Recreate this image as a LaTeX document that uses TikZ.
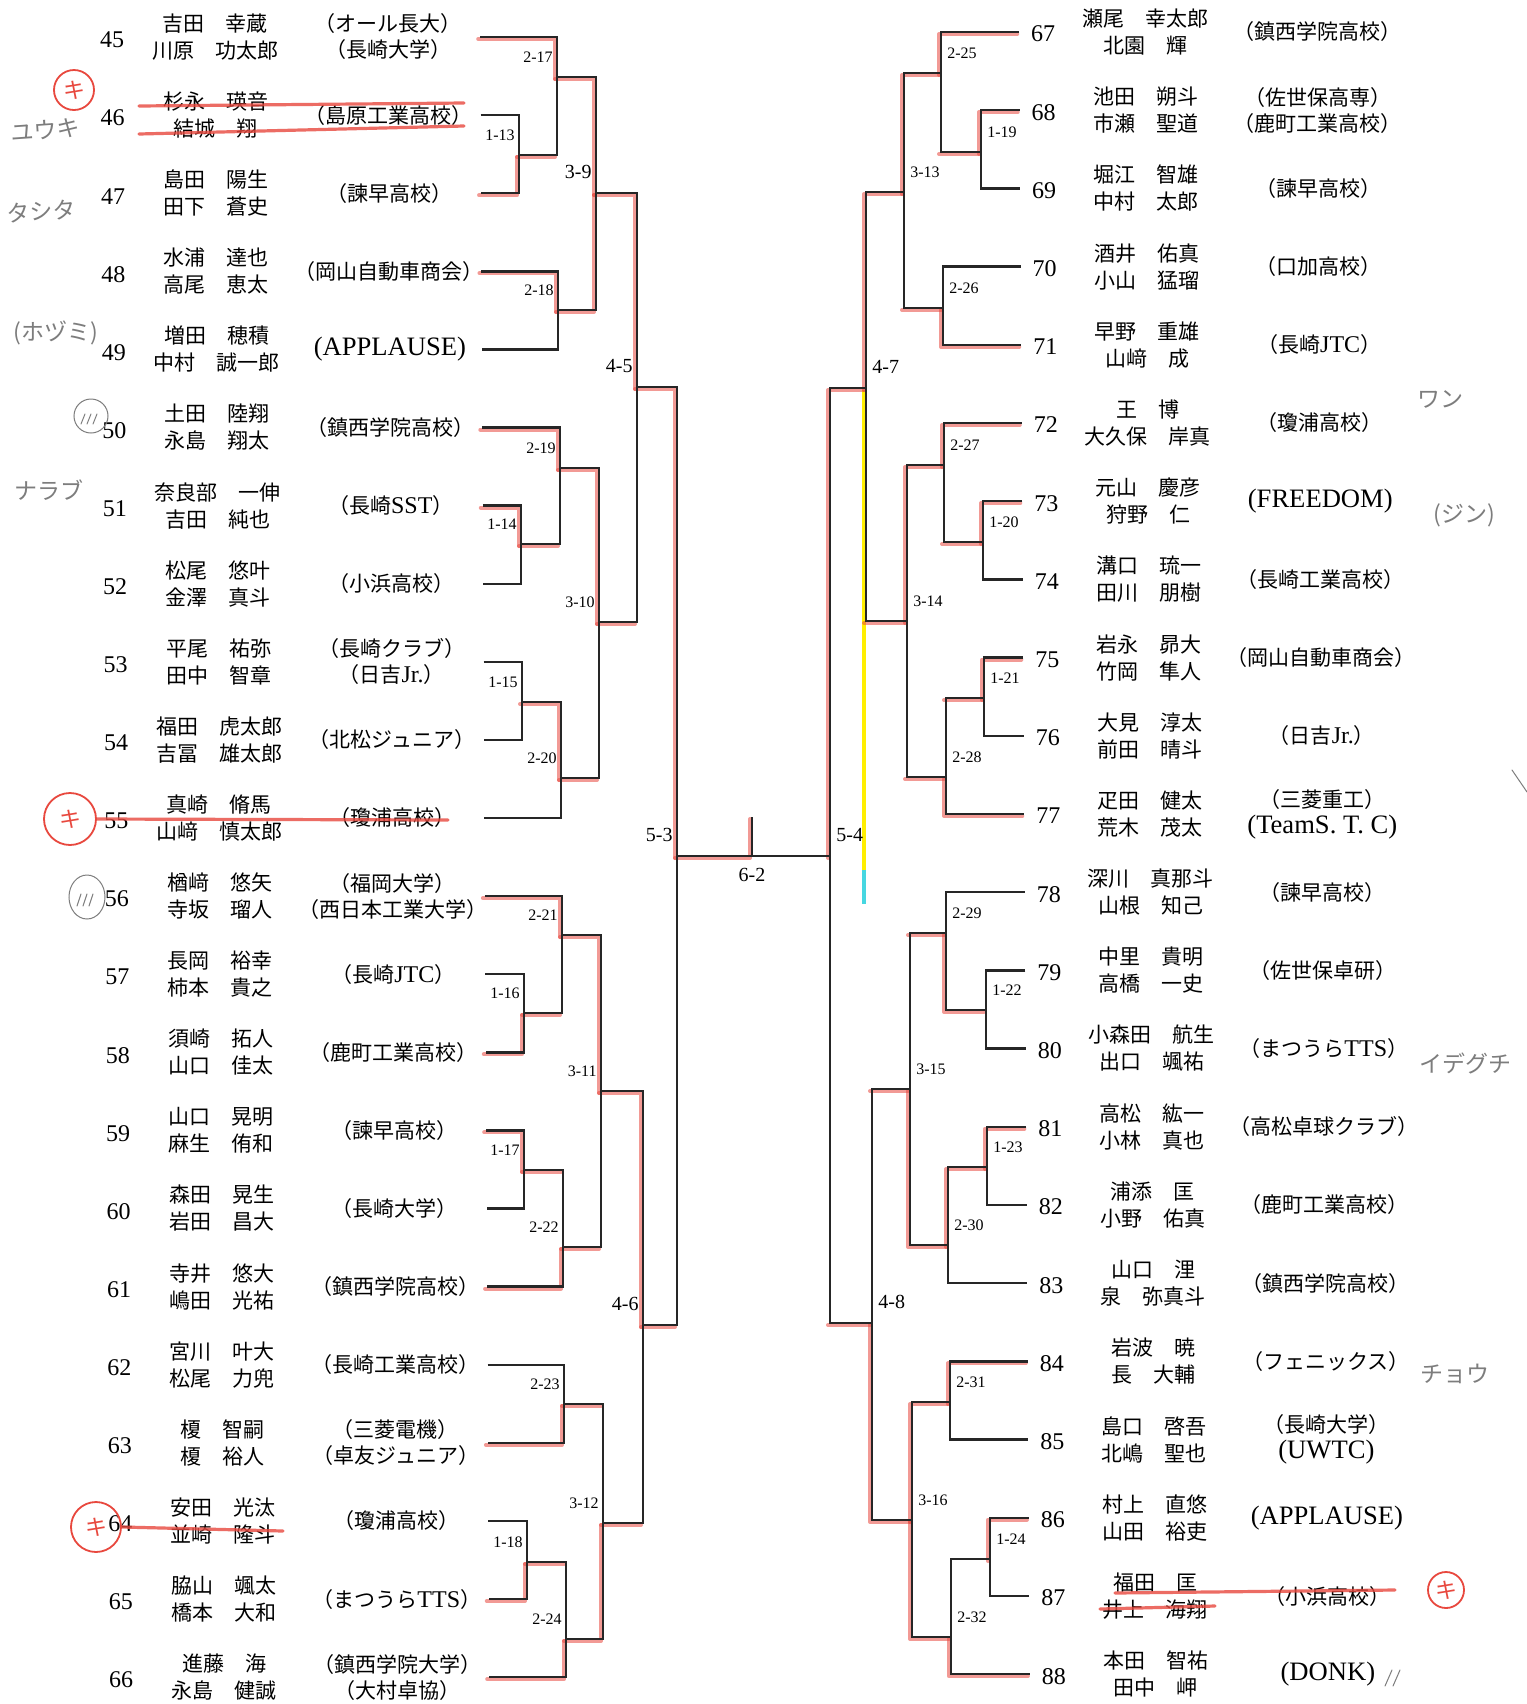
\documentclass[tikz,border=0pt]{standalone}
\usepackage{fontspec}
\setmainfont{Liberation Serif}
\newfontfamily\jp{Noto Sans CJK JP}
\usepackage{xcolor}
\definecolor{Lapiz}{RGB}{232,72,62}
\definecolor{Grafito}{RGB}{125,125,125}
\definecolor{Amarillo}{RGB}{255,238,0}
\definecolor{Turquesa}{RGB}{70,215,225}
\usepackage{tikz}
\usetikzlibrary{positioning, backgrounds, shapes.geometric}

\newcommand{\latclub}{\fontsize{13.3}{13}\selectfont\rmfamily}
\newcommand{\romano}{\fontsize{12}{13}\selectfont\rmfamily}

\tikzset{
  linea/.style={draw=black!85, line width=1.2pt},
  lapiz/.style={draw=Lapiz, line width=2pt, opacity=0.55, line cap=round, line join=round},
  numero/.style={font=\fontsize{12}{12}\selectfont, inner sep=0pt},
  nombre/.style={font=\jp\fontsize{10.5}{13.5}\selectfont, align=center, inner sep=0pt},
  club/.style={font=\jp\fontsize{10.5}{13}\selectfont, align=center, inner sep=0pt},
  ronda/.style={font=\fontsize{8}{8}\selectfont, inner sep=0pt},
  rondag/.style={font=\fontsize{10}{10}\selectfont, inner sep=0pt},
  mano/.style={font=\jp\fontsize{11.5}{11.5}\selectfont, text=Grafito, inner sep=0pt},
  circulo/.style={circle, draw=Lapiz, text=Lapiz, line width=0.9pt, inner sep=0pt, font=\jp\fontsize{11}{11}\selectfont},
  circgris/.style={ellipse, draw=Grafito, line width=0.5pt, inner sep=0pt},
  tachado/.style={draw=Lapiz, line width=1.6pt, opacity=0.8, line cap=round},
  trazo/.style={draw=Grafito, line width=0.5pt, line cap=round},
}

% llave de un partido: ronda, arriba, abajo, x, y, estilo
\newcommand{\llaveI}[6]{%
  \coordinate (m#1) at (#4,#5);
  \draw[linea] (#2) -- (#2 -| m#1) -- (#3 -| m#1) -- (#3);
  \node[#6, above left=7pt and 2pt of m#1] (t#1) {#1};}
\newcommand{\llaveD}[6]{%
  \coordinate (m#1) at (#4,#5);
  \draw[linea] (#2) -- (#2 -| m#1) -- (#3 -| m#1) -- (#3);
  \node[#6, above right=7pt and 3pt of m#1] (t#1) {#1};}
% trazo rojo del ganador
\newcommand{\gana}[2]{\draw[lapiz] (#1) -- (#1 -| #2) -- (#2);}
\newcommand{\sale}[2]{\draw[lapiz] (#1) -- (#1 -| #2);}

\begin{document}
\begin{tikzpicture}[x=0.5pt, y=-0.5pt]
\useasboundingbox (0,0) rectangle (1527,1704);

% Lado izquierdo
\foreach \nr/\pa/\pb/\org [count=\i from 0] in {
  45/吉田　幸蔵/川原　功太郎/{（オール長大）\\（長崎大学）},
  46/杉永　瑛音/結城　翔/（島原工業高校）,
  47/島田　陽生/田下　蒼史/（諫早高校）,
  48/水浦　達也/高尾　恵太/（岡山自動車商会）,
  49/増田　穂積/中村　誠一郎/{\latclub (APPLAUSE)},
  50/土田　陸翔/永島　翔太/（鎮西学院高校）,
  51/奈良部　一伸/吉田　純也/（長崎{\romano SST}）,
  52/松尾　悠叶/金澤　真斗/（小浜高校）,
  53/平尾　祐弥/田中　智章/{（長崎クラブ）\\（日吉{\romano Jr.}）},
  54/福田　虎太郎/吉冨　雄太郎/（北松ジュニア）,
  55/真崎　脩馬/山﨑　慎太郎/（瓊浦高校）,
  56/楢﨑　悠矢/寺坂　瑠人/{（福岡大学）\\（西日本工業大学）},
  57/長岡　裕幸/柿本　貴之/（長崎{\romano JTC}）,
  58/須崎　拓人/山口　佳太/（鹿町工業高校）,
  59/山口　晃明/麻生　侑和/（諫早高校）,
  60/森田　晃生/岩田　昌大/（長崎大学）,
  61/寺井　悠大/嶋田　光祐/（鎮西学院高校）,
  62/宮川　叶大/松尾　力兜/（長崎工業高校）,
  63/榎　智嗣/榎　裕人/{（三菱電機）\\（卓友ジュニア）},
  64/安田　光汰/並崎　隆斗/（瓊浦高校）,
  65/脇山　颯太/橋本　大和/（まつうら{\romano TTS}）,
  66/進藤　海/永島　健誠/{（鎮西学院大学）\\（大村卓協）}}{
  \pgfmathsetmacro{\yl}{37+78.1*\i}
  \pgfmathsetmacro{\dx}{0.0055*\yl}
  \node[numero] (n\nr) at (112+\dx,\yl+3) {\nr};
  \node[nombre] (p\nr) at (215+\dx,\yl) {\pa\\\pb};
  \node[club] (c\nr) at (388+\dx,\yl) {\org};
  \coordinate (e\nr) at (480+\dx,\yl);
}

% Lado derecho
\foreach \nr/\pa/\pb/\org [count=\i from 0] in {
  67/瀬尾　幸太郎/北園　輝/（鎮西学院高校）,
  68/池田　朔斗/市瀬　聖道/{（佐世保高専）\\（鹿町工業高校）},
  69/堀江　智雄/中村　太郎/（諫早高校）,
  70/酒井　佑真/小山　猛瑠/（口加高校）,
  71/早野　重雄/山﨑　成/（長崎{\romano JTC}）,
  72/王　博/大久保　岸真/（瓊浦高校）,
  73/元山　慶彦/狩野　仁/{\latclub (FREEDOM)},
  74/溝口　琉一/田川　朋樹/（長崎工業高校）,
  75/岩永　昴大/竹岡　隼人/（岡山自動車商会）,
  76/大見　淳太/前田　晴斗/（日吉{\romano Jr.}）,
  77/疋田　健太/荒木　茂太/{（三菱重工）\\\latclub (TeamS. T. C)},
  78/深川　真那斗/山根　知己/（諫早高校）,
  79/中里　貴明/高橋　一史/（佐世保卓研）,
  80/小森田　航生/出口　颯祐/（まつうら{\romano TTS}）,
  81/高松　紘一/小林　真也/（高松卓球クラブ）,
  82/浦添　匡/小野　佑真/（鹿町工業高校）,
  83/山口　浬/泉　弥真斗/（鎮西学院高校）,
  84/岩波　暁/長　大輔/（フェニックス）,
  85/島口　啓吾/北嶋　聖也/{（長崎大学）\\\latclub (UWTC)},
  86/村上　直悠/山田　裕吏/{\latclub (APPLAUSE)},
  87/福田　匡/井上　海翔/（小浜高校）,
  88/本田　智祐/田中　岬/{\latclub (DONK)}}{
  \pgfmathsetmacro{\yr}{32+78.2*\i}
  \pgfmathsetmacro{\dx}{0.0065*\yr}
  \node[numero] (n\nr) at (1043+\dx,\yr+2) {\nr};
  \node[nombre] (p\nr) at (1145+\dx,\yr) {\pa\\\pb};
  \node[club] (c\nr) at (1317+\dx,\yr) {\org};
  \coordinate (e\nr) at (1019+\dx,\yr);
}

% Llaves izquierda
\llaveI{1-13}{e46}{e47}{519}{155}{ronda}
\llaveI{2-17}{e45}{m1-13}{557}{77}{ronda}
\llaveI{2-18}{e48}{e49}{558}{310}{ronda}
\llaveI{3-9}{m2-17}{m2-18}{596}{193}{rondag}
\llaveI{1-14}{e51}{e52}{521}{544}{ronda}
\llaveI{2-19}{e50}{m1-14}{560}{468}{ronda}
\llaveI{1-15}{e53}{e54}{522}{702}{ronda}
\llaveI{2-20}{m1-15}{e55}{561}{778}{ronda}
\llaveI{3-10}{m2-19}{m2-20}{599}{622}{ronda}
\llaveI{4-5}{m3-9}{m3-10}{637}{387}{rondag}
\llaveI{1-16}{e57}{e58}{524}{1013}{ronda}
\llaveI{2-21}{e56}{m1-16}{562}{935}{ronda}
\llaveI{1-17}{e59}{e60}{524}{1170}{ronda}
\llaveI{2-22}{m1-17}{e61}{563}{1247}{ronda}
\llaveI{3-11}{m2-21}{m2-22}{601}{1091}{ronda}
\llaveI{2-23}{e62}{e63}{564}{1404}{ronda}
\llaveI{1-18}{e64}{e65}{527}{1562}{ronda}
\llaveI{2-24}{m1-18}{e66}{566}{1639}{ronda}
\llaveI{3-12}{m2-23}{m2-24}{603}{1523}{ronda}
\llaveI{4-6}{m3-11}{m3-12}{643}{1325}{rondag}
\llaveI{5-3}{m4-5}{m4-6}{677}{856}{rondag}

% Llaves derecha
\llaveD{1-19}{e68}{e69}{981}{152}{ronda}
\llaveD{2-25}{e67}{m1-19}{941}{73}{ronda}
\llaveD{2-26}{e70}{e71}{943}{308}{ronda}
\llaveD{3-13}{m2-25}{m2-26}{904}{192}{ronda}
\llaveD{1-20}{e73}{e74}{983}{542}{ronda}
\llaveD{2-27}{e72}{m1-20}{944}{465}{ronda}
\llaveD{1-21}{e75}{e76}{984}{698}{ronda}
\llaveD{2-28}{m1-21}{e77}{946}{777}{ronda}
\llaveD{3-14}{m2-27}{m2-28}{907}{621}{ronda}
\llaveD{4-7}{m3-13}{m3-14}{866}{388}{rondag}
\llaveD{1-22}{e79}{e80}{986}{1010}{ronda}
\llaveD{2-29}{e78}{m1-22}{946}{933}{ronda}
\llaveD{1-23}{e81}{e82}{987}{1167}{ronda}
\llaveD{2-30}{m1-23}{e83}{948}{1245}{ronda}
\llaveD{3-15}{m2-29}{m2-30}{910}{1089}{ronda}
\llaveD{2-31}{e84}{e85}{950}{1402}{ronda}
\llaveD{1-24}{e86}{e87}{990}{1559}{ronda}
\llaveD{2-32}{m1-24}{e88}{951}{1637}{ronda}
\llaveD{3-16}{m2-31}{m2-32}{912}{1520}{ronda}
\llaveD{4-8}{m3-15}{m3-16}{872}{1323}{rondag}
\llaveD{5-4}{m4-7}{m4-8}{830}{856}{rondag}

% Final
\draw[linea] (m5-3) -- (m5-4);
\coordinate (m6-2) at (752,856);
\coordinate (tope) at (752,817);
\draw[linea] (m6-2) -- (tope);
\node[rondag, below=6pt of m6-2] (t6-2) {6-2};

% Lapiz rojo y marcador (debajo de las lineas)
\begin{scope}[on background layer]
  \fill[white] (0,0) rectangle (1527,1704);
  \begin{scope}[transform canvas={xshift=-1pt, yshift=-1pt}]
    \coordinate (amA) at (864,868);
    \coordinate (amB) at (864,902);
    \draw[Amarillo, line width=2pt] (m4-7) -- (m4-7 |- amA);
    \draw[Turquesa, line width=2pt] (m4-7 |- amA) -- (m4-7 |- amB);
    % izquierda
    \gana{e47}{m1-13} \sale{m1-13}{m2-17}
    \gana{e45}{m2-17} \gana{e48}{m2-18}
    \gana{m2-17}{m3-9} \gana{m2-18}{m3-9}
    \gana{m3-9}{m4-5} \gana{m4-5}{m5-3}
    \draw[lapiz] (m5-3) -- (m6-2) -- (tope);
    \gana{e50}{m2-19} \gana{e51}{m1-14} \sale{m1-14}{m2-19}
    \gana{m2-19}{m3-10} \sale{m3-10}{m4-5}
    \gana{m1-15}{m2-20} \sale{m2-20}{m3-10}
    \gana{e56}{m2-21} \gana{e58}{m1-16} \sale{m1-16}{m2-21}
    \gana{m2-21}{m3-11} \gana{m3-11}{m4-6} \sale{m4-6}{m5-3}
    \gana{e59}{m1-17} \sale{m1-17}{m2-22}
    \gana{e61}{m2-22} \sale{m2-22}{m3-11}
    \gana{e63}{m2-23} \sale{m2-23}{m3-12}
    \gana{e65}{m1-18} \sale{m1-18}{m2-24}
    \gana{e66}{m2-24} \gana{m2-24}{m3-12} \sale{m3-12}{m4-6}
    % derecha
    \gana{e67}{m2-25} \gana{e68}{m1-19} \sale{m1-19}{m2-25}
    \gana{m2-25}{m3-13} \gana{e71}{m2-26} \sale{m2-26}{m3-13}
    \gana{m3-13}{m4-7} \gana{m4-7}{m5-4}
    \gana{e72}{m2-27} \gana{e73}{m1-20} \sale{m1-20}{m2-27}
    \gana{m2-27}{m3-14} \sale{m3-14}{m4-7}
    \gana{e75}{m1-21} \sale{m1-21}{m2-28}
    \gana{e77}{m2-28} \sale{m2-28}{m3-14}
    \gana{m1-22}{m2-29} \sale{m2-29}{m3-15}
    \gana{e81}{m1-23} \gana{m1-23}{m2-30} \gana{m2-30}{m3-15} \sale{m3-15}{m4-8}
    \gana{e84}{m2-31} \gana{m2-31}{m3-16} \gana{m3-16}{m4-8} \sale{m4-8}{m5-4}
    \gana{e86}{m1-24} \gana{e88}{m2-32} \gana{m2-32}{m3-16}
  \end{scope}
\end{scope}

% Marcas a mano: renuncias
\node[circulo, minimum size=20pt] (k46) at (74,90) {キ};
\node[circulo, minimum size=26pt] (k55) at (70,819) {キ};
\node[circulo, minimum size=25pt] (k64) at (96,1527) {キ};
\node[circulo, minimum size=18pt] (k87) at (1446,1590) {キ};
\draw[tachado] (139,106) -- (464,103);
\draw[tachado] (139,134) -- (464,126);
\draw[tachado] (k55.east) -- (448,820);
\draw[tachado] (k64.east) -- (283,1531);
\draw[tachado] (1115,1593) -- (1395,1590);
\draw[tachado] (1100,1609) -- (1215,1606);

% Notas a lapiz
\node[mano, rotate=4] (h46) at (45,130) {ユウキ};
\node[mano, rotate=4] (h47) at (41,211) {タシタ};
\node[mano] (h49) at (56,333) {(ホヅミ)};
\node[mano] (h51) at (49,490) {ナラブ};
\node[mano] (h72) at (1440,399) {ワン};
\node[mano] (h73) at (1464,515) {(ジン)};
\node[mano] (h80) at (1465,1063) {イデグチ};
\node[mano] (h84) at (1455,1374) {チョウ};
\node[circgris, minimum width=17pt, minimum height=17pt] (g50) at (91,416) {};
\node[circgris, minimum width=18pt, minimum height=22pt] (g56) at (87,897) {};
\foreach \d in {0,6,12} \draw[trazo] (81+\d,424) -- ++(4,-10);
\foreach \d in {0,6,12} \draw[trazo] (77+\d,906) -- ++(4,-12);
\foreach \d in {0,8} \draw[trazo] (1385+\d,1686) -- ++(7,-16);
\draw[trazo] (1512,770) -- (1527,792);
\end{tikzpicture}
\end{document}
